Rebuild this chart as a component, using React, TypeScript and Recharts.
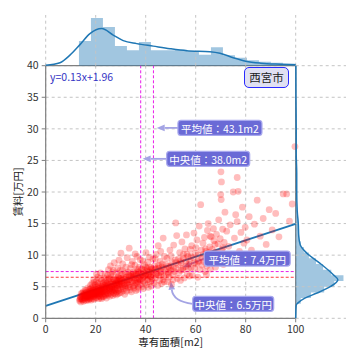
import { ComposedChart, Scatter, XAxis, YAxis, CartesianGrid, ReferenceLine, ReferenceDot, Area, Line } from 'recharts';

const FONT = '"Noto Sans CJK JP", "Noto Sans", sans-serif';

const X_TICKS = [0, 20, 40, 60, 80, 100];
const Y_TICKS = [0, 5, 10, 15, 20, 25, 30, 35, 40];

// 専有面積[m2], 賃料[万円]
const POINTS: [number, number][] = [
  [13.5, 2.8], [13.8, 3.4], [14.0, 2.6], [14.2, 3.9], [14.4, 3.1], [14.6, 2.9], [14.8, 3.6], [15.0, 4.2], [15.1, 2.7], [15.3, 3.3],
  [15.5, 3.8], [15.6, 2.9], [15.8, 4.5], [16.0, 3.2], [16.1, 3.6], [16.3, 2.8], [16.4, 4.1], [16.6, 3.4], [16.7, 3.0], [16.9, 4.8],
  [17.0, 3.7], [17.2, 2.9], [17.3, 4.3], [17.5, 3.5], [17.6, 3.1], [17.8, 3.9], [17.9, 5.2], [13.7, 3.0], [14.1, 3.5], [14.9, 3.0],
  [15.4, 4.0], [15.9, 3.5], [16.2, 4.4], [16.8, 3.8], [17.1, 4.0], [17.4, 3.2], [17.7, 4.6], [14.5, 3.3], [15.2, 3.7], [16.5, 3.3],
  [13.9, 3.1], [15.7, 3.2], [16.9, 3.5], [17.5, 4.1], [14.7, 4.0],
  [18.0, 3.3], [18.1, 4.0], [18.2, 2.9], [18.3, 4.7], [18.4, 3.6], [18.5, 5.5], [18.6, 3.1], [18.7, 4.2], [18.8, 3.8], [18.9, 5.0],
  [19.0, 3.4], [19.1, 4.4], [19.2, 6.1], [19.3, 3.0], [19.4, 3.9], [19.5, 4.8], [19.6, 3.5], [19.7, 4.1], [19.8, 5.3], [19.9, 3.2],
  [20.0, 4.6], [20.1, 3.7], [20.2, 5.8], [20.3, 4.0], [20.4, 3.3], [20.5, 4.9], [20.6, 3.8], [20.7, 6.5], [20.8, 4.3], [20.9, 3.5],
  [21.0, 5.1], [21.1, 4.0], [21.2, 3.1], [21.3, 4.7], [21.4, 3.6], [21.5, 5.6], [21.6, 4.2], [21.7, 3.4], [21.8, 4.5], [21.9, 7.2],
  [22.0, 3.9], [22.1, 5.0], [22.2, 3.3], [22.3, 4.4], [22.4, 6.0], [22.5, 3.7], [22.6, 4.8], [22.7, 4.1], [22.8, 5.4], [22.9, 3.5],
  [18.5, 4.4], [19.0, 4.0], [19.5, 3.7], [20.0, 3.9], [20.5, 4.3], [21.0, 4.4], [21.5, 3.9], [22.0, 4.6], [22.5, 4.2], [19.3, 5.7],
  [20.8, 5.5], [21.8, 6.3], [22.3, 3.1], [18.7, 3.5], [20.3, 7.0],
  [23.0, 4.3], [23.1, 5.6], [23.2, 3.4], [23.3, 4.9], [23.4, 6.4], [23.5, 3.9], [23.6, 5.2], [23.7, 4.5], [23.8, 7.0], [23.9, 3.6],
  [24.0, 5.0], [24.1, 4.2], [24.2, 6.0], [24.3, 3.2], [24.4, 4.8], [24.5, 5.5], [24.6, 4.0], [24.7, 6.8], [24.8, 3.7], [24.9, 5.3],
  [25.0, 4.6], [25.1, 7.7], [25.2, 3.9], [25.3, 5.8], [25.4, 4.4], [25.5, 6.3], [25.6, 3.5], [25.7, 5.1], [25.8, 4.7], [25.9, 8.3],
  [26.0, 4.1], [26.1, 5.9], [26.2, 3.8], [26.3, 6.6], [26.4, 4.9], [26.5, 5.4], [26.6, 4.3], [26.7, 7.3], [26.8, 3.6], [26.9, 5.7],
  [27.0, 4.6], [27.1, 6.2], [27.2, 4.0], [27.3, 5.0], [27.4, 8.8], [27.5, 4.4], [27.6, 6.0], [27.7, 3.9], [27.8, 5.5], [27.9, 4.8],
  [23.5, 4.6], [24.5, 4.4], [25.5, 4.8], [26.5, 4.5], [27.5, 5.3], [24.0, 3.8], [26.0, 6.9], [25.0, 6.2], [27.0, 7.6], [23.8, 5.8],
  [28.0, 4.5], [28.1, 6.1], [28.2, 3.7], [28.3, 5.4], [28.4, 7.2], [28.5, 4.2], [28.6, 5.9], [28.7, 4.8], [28.8, 8.0], [28.9, 3.9],
  [29.0, 5.6], [29.1, 6.7], [29.2, 4.4], [29.3, 9.2], [29.4, 5.1], [29.5, 4.0], [29.6, 6.3], [29.7, 5.3], [29.8, 7.6], [29.9, 4.6],
  [30.0, 5.8], [30.2, 4.1], [30.4, 6.9], [30.6, 5.0], [30.8, 8.6], [31.0, 4.7], [31.2, 6.2], [31.4, 5.5], [31.6, 3.8], [31.8, 7.1],
  [32.0, 5.2], [32.2, 6.5], [32.4, 4.3], [32.6, 9.6], [32.8, 5.7], [33.0, 4.9], [28.5, 5.2], [29.5, 5.5], [30.5, 6.0], [31.5, 5.9],
  [32.5, 6.0], [30.1, 10.3], [31.1, 4.4], [29.2, 6.0], [30.7, 7.6], [32.1, 8.1], [28.9, 6.5], [31.9, 4.8], [30.3, 5.4], [32.9, 7.3],
  [33.2, 5.3], [33.4, 11.1], [33.5, 6.8], [33.7, 4.5], [33.9, 7.9], [34.1, 5.8], [34.3, 4.2], [34.5, 6.4], [34.7, 9.0], [34.9, 5.1],
  [35.1, 7.3], [35.3, 4.8], [35.5, 6.0], [35.7, 8.4], [35.9, 5.5], [36.1, 4.4], [36.3, 6.9], [36.5, 9.8], [36.7, 5.9], [36.9, 7.5],
  [37.1, 4.9], [37.3, 6.3], [37.5, 8.1], [37.7, 5.4], [37.9, 6.7], [33.3, 6.1], [34.0, 6.6], [34.8, 7.0], [35.4, 5.2], [36.0, 6.2],
  [36.8, 4.6], [37.4, 7.0], [34.4, 8.5], [35.8, 10.2], [37.0, 5.7], [33.8, 4.9], [36.4, 5.6], [37.8, 9.3], [35.0, 6.4], [36.6, 7.8],
  [38.1, 6.0], [38.3, 7.8], [38.5, 5.0], [38.7, 9.1], [38.9, 6.5], [39.1, 4.7], [39.3, 7.2], [39.5, 8.5], [39.7, 5.6], [39.9, 6.8],
  [40.1, 10.4], [40.3, 5.3], [40.5, 7.5], [40.7, 6.1], [40.9, 8.9], [41.1, 4.9], [41.3, 7.0], [41.5, 9.7], [41.7, 5.8], [41.9, 6.6],
  [42.1, 8.0], [42.3, 5.1], [42.5, 7.4], [42.7, 6.3], [42.9, 9.4], [38.6, 6.9], [39.6, 7.6], [40.6, 6.7], [41.6, 7.3], [42.6, 5.9],
  [39.0, 5.9], [40.0, 8.1], [41.0, 6.2], [42.0, 7.7], [43.0, 6.9],
  [43.3, 5.6], [43.6, 8.3], [43.9, 6.4], [44.2, 10.1], [44.5, 7.1], [44.8, 5.2], [45.0, 11.5], [45.2, 7.9], [45.5, 6.0], [45.8, 9.0],
  [46.1, 7.4], [46.4, 5.5], [46.7, 8.6], [47.0, 12.7], [47.2, 6.6], [47.5, 9.8], [47.8, 7.6], [44.0, 7.8], [45.3, 6.8], [46.0, 10.6],
  [46.9, 6.1], [43.8, 9.4], [44.7, 8.0], [47.4, 5.8], [45.7, 7.2], [46.5, 8.1],
  [48.2, 7.0], [48.5, 9.5], [48.8, 5.8], [49.1, 8.2], [49.4, 6.5], [49.7, 10.8], [50.0, 7.6], [50.3, 5.4], [50.6, 8.9], [50.9, 6.9],
  [51.2, 11.6], [51.5, 7.4], [51.8, 9.2], [52.0, 15.1], [52.4, 13.1], [52.7, 6.3], [53.0, 8.5], [48.9, 7.3], [50.1, 9.9], [51.0, 6.1],
  [52.2, 7.9], [49.5, 8.0],
  [53.3, 7.2], [53.6, 10.4], [53.9, 6.0], [54.2, 8.8], [54.5, 12.1], [54.8, 7.7], [55.1, 9.5], [55.4, 6.4], [55.7, 11.0], [56.0, 8.2],
  [56.3, 13.2], [56.6, 7.0], [56.9, 9.8], [57.2, 8.6], [57.5, 6.7], [57.8, 10.9], [54.0, 9.1], [55.0, 8.0], [56.5, 10.1], [57.7, 8.9],
  [58.1, 8.0], [58.4, 11.5], [58.7, 6.8], [59.0, 9.6], [59.3, 13.5], [59.6, 7.9], [59.9, 10.3], [60.2, 8.6], [60.5, 12.4], [60.8, 6.5],
  [61.1, 9.1], [61.4, 14.6], [61.7, 7.7], [62.0, 18.0], [62.3, 10.8], [62.6, 8.4], [62.9, 11.9], [59.5, 8.8], [61.0, 10.0], [62.5, 9.5],
  [63.2, 9.0], [63.5, 12.8], [63.8, 7.4], [64.1, 10.6], [64.4, 8.3], [64.7, 13.9], [65.0, 15.0], [65.3, 9.7], [65.6, 11.3], [65.9, 7.8],
  [66.2, 12.9], [66.5, 10.2], [66.8, 8.7], [67.1, 14.2], [67.4, 9.4], [67.7, 11.7], [63.9, 11.0], [64.9, 9.3], [65.8, 13.0], [66.6, 10.9],
  [67.3, 12.3], [64.3, 6.9], [66.0, 9.9], [67.9, 8.1],
  [68.0, 10.5], [68.3, 13.3], [68.6, 8.9], [68.9, 11.8], [69.2, 15.6], [69.5, 9.6], [69.8, 12.6], [70.1, 23.2], [70.3, 21.6], [70.0, 19.6],
  [70.2, 18.8], [70.5, 10.9], [70.8, 14.1], [71.1, 8.5], [71.4, 12.0], [71.7, 16.8], [72.0, 10.0], [72.4, 13.8], [72.8, 9.2], [69.0, 10.3],
  [71.0, 11.2],
  [73.2, 11.4], [73.8, 14.8], [74.4, 9.8], [75.0, 20.0], [75.5, 12.7], [76.0, 16.4], [76.6, 22.3], [76.6, 15.3], [77.0, 20.1], [77.5, 10.6],
  [78.1, 13.6], [78.7, 17.6], [79.3, 11.9], [79.8, 14.4],
  [80.5, 12.4], [81.4, 16.1], [82.3, 10.8], [83.5, 14.9], [84.6, 18.7], [85.8, 13.0], [87.0, 15.8], [88.2, 11.7], [89.4, 17.2],
  [90.6, 14.0], [92.0, 16.6], [93.3, 12.9], [95.0, 19.7], [96.4, 19.7], [97.5, 15.4], [98.6, 18.1], [99.7, 27.2],
  // dense core
  [15.3, 3.5], [16.0, 3.9], [16.6, 3.6], [17.2, 3.4], [17.8, 4.2], [18.3, 3.9], [18.8, 4.5], [19.2, 4.3], [19.7, 3.8], [20.2, 4.5],
  [20.6, 4.1], [21.1, 4.8], [21.6, 4.4], [22.1, 4.2], [22.6, 5.0], [23.1, 4.7], [23.6, 4.3], [24.1, 5.3], [24.6, 4.9], [25.1, 5.1],
  [25.6, 4.6], [26.1, 5.5], [26.6, 5.0], [27.1, 5.4], [27.6, 4.7], [28.1, 5.6], [28.6, 6.2], [29.1, 5.2], [29.6, 5.9], [30.1, 6.3],
  [30.6, 5.6], [31.1, 6.6], [31.6, 5.2], [32.1, 6.2], [32.6, 5.5], [33.1, 6.9], [33.6, 6.1], [34.1, 6.9], [34.6, 5.7], [35.1, 6.7],
  [35.6, 6.9], [36.1, 7.2], [36.6, 6.4], [37.1, 7.3], [37.6, 6.1], [38.1, 7.1], [38.6, 6.3], [39.1, 7.7], [39.6, 6.6], [40.1, 7.0],
  [40.6, 7.9], [41.1, 6.8], [41.6, 8.1], [42.1, 6.6], [42.6, 7.8], [43.1, 7.3], [44.1, 7.0], [45.1, 8.4], [46.1, 6.9], [47.1, 8.0],
  [48.1, 8.5], [49.1, 7.1], [50.1, 8.3], [51.1, 7.9], [52.1, 8.8], [53.1, 9.4], [54.1, 7.6], [55.1, 10.1], [56.1, 9.0], [57.1, 7.9],
  [58.1, 9.8], [60.1, 11.2], [61.1, 8.9], [63.1, 10.1], [65.1, 10.4],
];

const REG_LINE = [{ x: 0, y: 1.96 }, { x: 100, y: 14.96 }];
const REG_TEXT = 'y=0.13x+1.96';
const CITY = '西宮市';

const X_MEAN = 43.1;
const X_MEDIAN = 38.0;
const Y_MEAN = 7.4;
const Y_MEDIAN = 6.5;

// top marginal: histogram + kde of 専有面積
const X_BIN_EDGES = [13.3, 18.1, 22.9, 27.7, 32.5, 37.3, 42.1, 46.9, 51.7, 56.5, 61.3, 66.1, 70.9, 75.7, 80.5, 85.3, 90.1, 94.9, 99.7];
const X_BIN_COUNTS = [49, 95, 77, 39, 31, 47, 31, 31, 32, 29, 22, 37, 21, 16, 11, 8, 6, 4];
const X_KDE_X = [0, 5.7, 9.7, 13.7, 17.7, 22.4, 27, 31, 36.4, 43, 49.7, 56.4, 65.7, 69.7, 75, 80, 86, 94, 100];
const X_KDE_Y = [1, 6, 21, 42, 64, 74, 61, 50, 44, 39, 34, 30, 28, 25, 16, 9, 5, 3, 2];

// right marginal: histogram + kde of 賃料
const Y_BIN_EDGES = [2.3, 3.2, 4.1, 5.0, 5.9, 6.8, 7.7, 8.6, 9.5, 10.4, 11.3, 12.2, 13.1, 14.0, 14.9, 15.8, 16.7, 17.6, 18.5, 19.4, 20.3, 21.2, 22.1, 23.0, 23.9, 24.8, 25.7, 26.6, 27.5];
const Y_BIN_COUNTS = [10, 30, 56, 76, 94, 70, 54, 40, 26, 16, 10, 7, 6, 5, 5, 4, 3, 2, 2, 2, 1, 1, 1, 1, 0, 1, 0, 1];
const Y_KDE_Y = [0, 1.5, 2.1, 2.4, 3.2, 4.0, 5.0, 6.1, 6.9, 8.7, 10.3, 11.6, 13.0, 15.1, 17.0, 20.0, 23.0, 26, 30, 35, 40];
const Y_KDE_W = [0, 0.5, 1, 4, 18, 42, 68, 83, 74, 48, 22, 9, 6, 5, 3, 2, 2, 1, 1, 0.5, 0.3];

const ANNOTATIONS = [
  { label: '平均値：43.1m2', box: { x: 52.9, y: 30.15 }, target: { x: 44.4, y: 30.15 }, w: 84, rad: 0 },
  { label: '中央値：38.0m2', box: { x: 48.4, y: 25.25 }, target: { x: 38.8, y: 25.25 }, w: 83, rad: 0 },
  { label: '平均値：7.4万円', box: { x: 63.4, y: 9.45 }, target: { x: 54.8, y: 8.1 }, w: 86, rad: 0 },
  { label: '中央値：6.5万円', box: { x: 58.8, y: 2.3 }, target: { x: 50.1, y: 5.8 }, w: 81, rad: 0.4 },
];

const scatterData = POINTS.map(([x, y]) => ({ x, y }));

const topData = [
  ...X_BIN_EDGES.map((x, i) => ({ x, hist: X_BIN_COUNTS[i] ?? 0 })),
  ...X_KDE_X.map((x, i) => ({ x, kde: X_KDE_Y[i] })),
].sort((a, b) => a.x - b.x);

const rightData = [
  ...Y_BIN_EDGES.map((y, i) => ({ y, hist: Y_BIN_COUNTS[i] ?? 0 })),
  ...Y_KDE_Y.map((y, i) => ({ y, kde: Y_KDE_W[i] })),
].sort((a, b) => a.y - b.y);

const GRID = '#c4c4c4';
const SPINE = '#7f7f7f';
const BLUE = '#1f77b4';
const ARROW = '#a4a4e4';

const dot = (p: any) => <circle cx={p.cx} cy={p.cy} r={3.4} fill="#ff0000" fillOpacity={0.26} />;

function arrowShape(rad: number) {
  return (p: any) => {
    const { x1, y1, x2, y2 } = p;
    const dx = x2 - x1;
    const dy = y2 - y1;
    const cx = (x1 + x2) / 2 + rad * dy;
    const cy = (y1 + y2) / 2 - rad * dx;
    const ang = Math.atan2(y2 - cy, x2 - cx);
    const L = 8;
    const W = 3.3;
    const bx = x2 - L * Math.cos(ang);
    const by = y2 - L * Math.sin(ang);
    const nx = -Math.sin(ang) * W;
    const ny = Math.cos(ang) * W;
    return (
      <g>
        <path d={`M${x1},${y1} Q${cx},${cy} ${bx},${by}`} fill="none" stroke={ARROW} strokeWidth={1.8} />
        <path d={`M${x2},${y2} L${bx + nx},${by + ny} L${bx - nx},${by - ny} Z`} fill={ARROW} />
      </g>
    );
  };
}

function boxShape(label: string, w: number) {
  return (p: any) => (
    <g>
      <rect x={p.cx} y={p.cy - 7.5} width={w} height={15} rx={3} fill="#6a6ad6" stroke="#a8a8ee" strokeWidth={1.2} />
      <text x={p.cx + w / 2} y={p.cy + 0.5} textAnchor="middle" dominantBaseline="central" fill="#fff" fontSize={10.5}>
        {label}
      </text>
    </g>
  );
}

export default function App() {
  return (
    <div style={{ position: 'absolute', left: 0, top: 0, width: 360, height: 360, background: '#fff', fontFamily: FONT }}>
      <div style={{ position: 'absolute', left: 0, top: 0 }}>
        <ComposedChart width={360} height={360} margin={{ top: 65.7, right: 64.3, bottom: 11.7, left: 5.7 }}>
          <CartesianGrid strokeDasharray="3 3" stroke={GRID} />
          <XAxis
            type="number"
            dataKey="x"
            domain={[0, 100]}
            ticks={X_TICKS}
            height={30}
            tickSize={4}
            tickMargin={3}
            axisLine={{ stroke: SPINE, strokeWidth: 1.2 }}
            tickLine={{ stroke: SPINE }}
            tick={{ fontSize: 10.5, fill: '#333' }}
            label={{ value: '専有面積[m2]', position: 'insideBottom', offset: 2, fontSize: 10.5, fill: '#222' }}
          />
          <YAxis
            type="number"
            dataKey="y"
            domain={[0, 40]}
            ticks={Y_TICKS}
            width={40}
            tickSize={4}
            tickMargin={3}
            axisLine={{ stroke: SPINE, strokeWidth: 1.2 }}
            tickLine={{ stroke: SPINE }}
            tick={{ fontSize: 10.5, fill: '#333' }}
            label={{ value: '賃料[万円]', angle: -90, position: 'insideLeft', offset: 12.3, style: { textAnchor: 'middle' }, fontSize: 10.5, fill: '#222' }}
          />
          <Scatter data={scatterData} shape={dot} isAnimationActive={false} />
          <ReferenceLine x={100} stroke={SPINE} strokeWidth={1.2} />
          <ReferenceLine y={40} stroke={SPINE} strokeWidth={1.2} />
          <ReferenceLine x={X_MEDIAN} stroke="#e81ee8" strokeDasharray="3 2" />
          <ReferenceLine x={X_MEAN} stroke="#e81ee8" strokeDasharray="3 2" />
          <ReferenceLine y={Y_MEAN} stroke="#e81ee8" strokeDasharray="3 2" />
          <ReferenceLine y={Y_MEDIAN} stroke="#ff3a3a" strokeDasharray="3 2" strokeWidth={1.2} />
          <ReferenceLine segment={REG_LINE} stroke={BLUE} strokeWidth={2} />
          {ANNOTATIONS.map((a) => (
            <ReferenceLine key={`ar-${a.label}`} segment={[a.box, a.target]} shape={arrowShape(a.rad)} />
          ))}
          {ANNOTATIONS.map((a) => (
            <ReferenceDot key={`bx-${a.label}`} x={a.box.x} y={a.box.y} r={1} shape={boxShape(a.label, a.w)} />
          ))}
        </ComposedChart>
      </div>

      <div style={{ position: 'absolute', left: 0, top: 0 }}>
        <ComposedChart width={360} height={70} data={topData} margin={{ top: 15, right: 64.3, bottom: 4.3, left: 45.7 }}>
          <XAxis type="number" dataKey="x" domain={[0, 100]} hide />
          <YAxis type="number" domain={[0, 101]} hide />
          {X_TICKS.map((t) => (
            <ReferenceLine key={t} x={t} stroke={GRID} strokeDasharray="3 3" />
          ))}
          <Area dataKey="hist" type="stepAfter" stroke="none" fill={BLUE} fillOpacity={0.42} connectNulls isAnimationActive={false} />
          <Line dataKey="kde" type="monotone" stroke={BLUE} strokeWidth={1.5} dot={false} connectNulls isAnimationActive={false} />
        </ComposedChart>
      </div>

      <div style={{ position: 'absolute', left: 290, top: 0 }}>
        <ComposedChart layout="vertical" width={70} height={360} data={rightData} margin={{ top: 65.7, right: 14, bottom: 41.7, left: 5.7 }}>
          <XAxis type="number" domain={[0, 99]} hide />
          <YAxis type="number" dataKey="y" domain={[0, 40]} reversed hide />
          {Y_TICKS.map((t) => (
            <ReferenceLine key={t} y={t} stroke={GRID} strokeDasharray="3 3" />
          ))}
          <Area dataKey="hist" type="stepBefore" stroke="none" fill={BLUE} fillOpacity={0.42} connectNulls isAnimationActive={false} />
          <Line dataKey="kde" type="monotone" stroke={BLUE} strokeWidth={1.5} dot={false} connectNulls isAnimationActive={false} />
        </ComposedChart>
      </div>

      <div style={{ position: 'absolute', left: 50, top: 69, fontSize: 10.5, color: '#3434c4', lineHeight: '16px' }}>{REG_TEXT}</div>
      <div
        style={{
          position: 'absolute',
          left: 244,
          top: 67,
          width: 45,
          height: 21,
          boxSizing: 'border-box',
          border: '1.5px solid #2a2aff',
          borderRadius: 5,
          background: '#e0e0f2',
          fontSize: 11.5,
          lineHeight: '18px',
          textAlign: 'center',
          color: '#222',
        }}
      >
        {CITY}
      </div>
    </div>
  );
}
